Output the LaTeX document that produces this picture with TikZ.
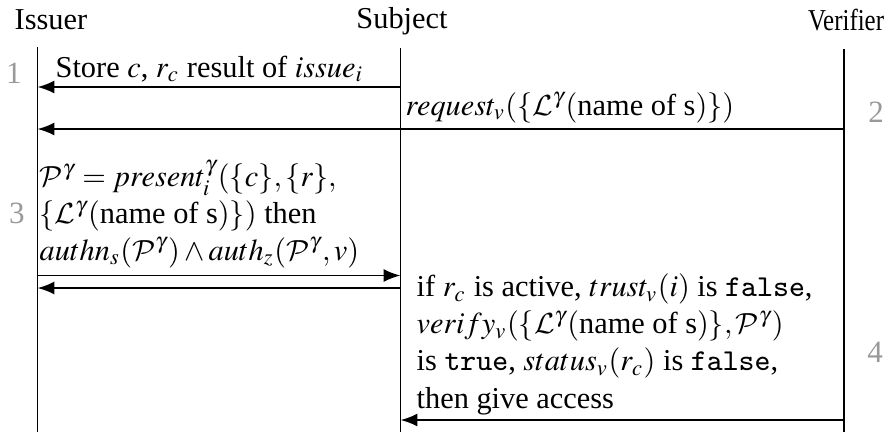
\documentclass[tikz,border=0pt]{standalone}
\usepackage{mathptmx}
\usepackage{fontspec}
\setmainfont{Liberation Serif}
\DeclareMathAlphabet{\mathcal}{OMS}{cmsy}{m}{n}
\usetikzlibrary{arrows.meta}

\tikzset{
  lifeline/.style={line width=0.6pt},
  msg/.style={line width=0.6pt,-{Latex[length=5.2pt,width=4pt]}},
  hdr/.style={anchor=base,inner sep=0pt,font=\fontsize{9.4}{11}\selectfont},
  txt/.style={anchor=base west,inner sep=0pt,font=\fontsize{9.4}{11.4}\selectfont},
  num/.style={anchor=base,inner sep=0pt,text=black!40,font=\fontsize{9.6}{11.4}\selectfont},
}

\begin{document}
\begin{tikzpicture}[x=0.3096pt,y=-0.3096pt]
  \useasboundingbox (0,0) rectangle (884,432);

  % participants
  \node[hdr] (issuer)   at (51,29)  {Issuer};
  \node[hdr] (subject)  at (402,28) {Subject};
  \node[hdr] (verifier) at (846,30) {\scalebox{0.82}[1]{Verifier}};

  % lifelines
  \coordinate (iT) at (37.5,47);  \coordinate (iB) at (37.5,432);
  \coordinate (sT) at (400.5,48); \coordinate (sB) at (400.5,432);
  \coordinate (vT) at (844,49);   \coordinate (vB) at (844,432);
  \draw[lifeline] (iT) -- (iB);
  \draw[lifeline] (sT) -- (sB);
  \draw[lifeline] (vT) -- (vB);

  % message end points
  \coordinate (s1) at (400.5,87);  \coordinate (i1) at (37.5,87);
  \coordinate (v2) at (844,129);   \coordinate (i2) at (37.5,129);
  \coordinate (i3a) at (37.5,275.5); \coordinate (s3a) at (400.5,275.5);
  \coordinate (s3b) at (400.5,288);  \coordinate (i3b) at (37.5,288);
  \coordinate (v4) at (844,420);   \coordinate (s4) at (400.5,420);

  % step 1
  \node[num] (n1) at (14,83) {1};
  \node[txt] (m1) at (55,77) {Store $c$, $r_c$ result of $issue_i$};
  \draw[msg] (s1) -- (i1);

  % step 2
  \node[num] (n2) at (876,122) {2};
  \node[txt] (m2) at (405,115) {$request_v(\{\mathcal{L}^\gamma(\textrm{name of s})\})$};
  \draw[msg] (v2) -- (i2);

  % step 3
  \node[num] (n3) at (17,223) {3};
  \node[txt] (m3a) at (39,186.5) {$\mathcal{P}^\gamma = present_i^\gamma(\{c\},\{r\},$};
  \node[txt] (m3b) at (39,223.3) {$\{\mathcal{L}^\gamma(\textrm{name of s})\})$ then};
  \node[txt] (m3c) at (39,260) {$authn_s(\mathcal{P}^\gamma)\wedge auth_z(\mathcal{P}^\gamma,v)$};
  \draw[msg] (i3a) -- (s3a);
  \draw[msg] (s3b) -- (i3b);

  % step 4
  \node[num] (n4) at (875,362) {4};
  \node[txt] (m4a) at (416,296.7) {if $r_c$ is active, $trust_v(i)$ is \texttt{false},};
  \node[txt] (m4b) at (416,333.5) {$verify_v(\{\mathcal{L}^\gamma(\textrm{name of s})\},\mathcal{P}^\gamma)$};
  \node[txt] (m4c) at (416,370.5) {is \texttt{true}, $status_v(r_c)$ is \texttt{false},};
  \node[txt] (m4d) at (416,408.5) {then give access};
  \draw[msg] (v4) -- (s4);
\end{tikzpicture}
\end{document}
